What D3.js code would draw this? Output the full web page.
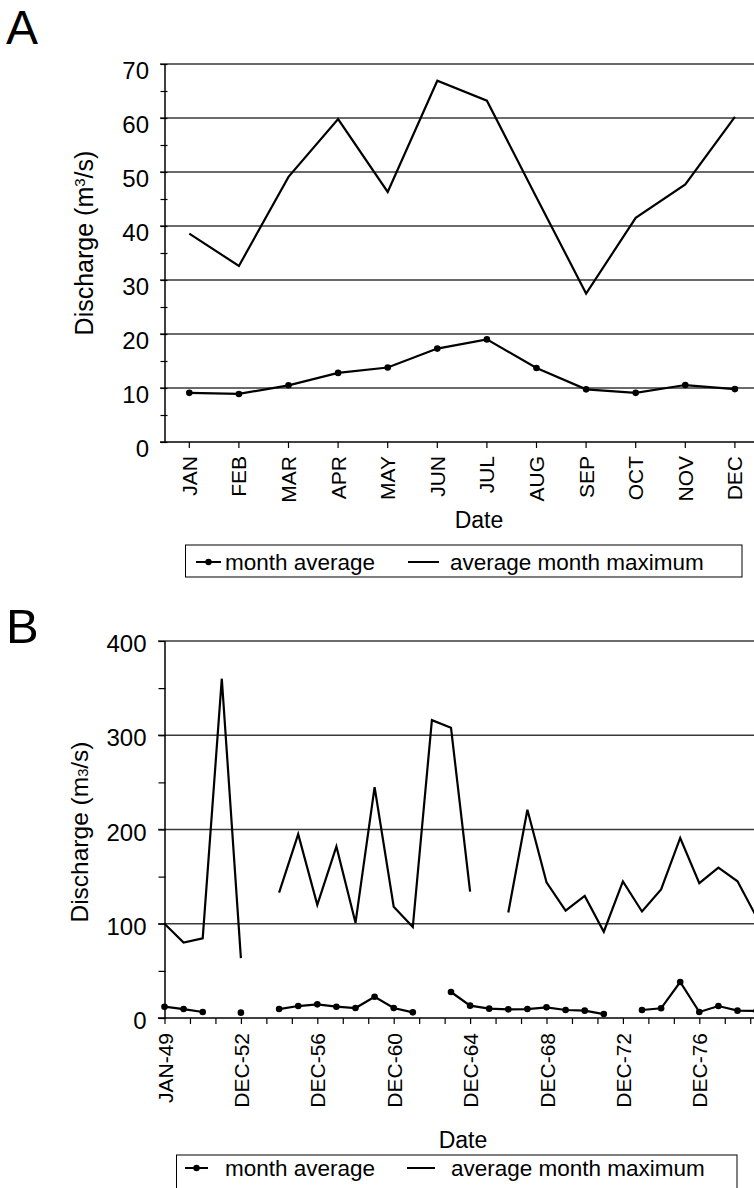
<!DOCTYPE html>
<html><head><meta charset="utf-8">
<script src="https://cdn.jsdelivr.net/npm/d3@7"></script>
<style>
body{margin:0;background:#fff}
svg{display:block}
text{font-family:"Liberation Sans",Arial,sans-serif;fill:#000}
</style>
</head><body>
<svg id="c" width="754" height="1188"></svg>
<script>
// ---------- Panel A data ----------
const monthsA = ["JAN","FEB","MAR","APR","MAY","JUN","JUL","AUG","SEP","OCT","NOV","DEC"];
const monthAverageA = [9.1, 8.9, 10.5, 12.8, 13.8, 17.3, 19.0, 13.7, 9.75, 9.1, 10.55, 9.8];
const monthMaxA = [38.6, 32.6, 49.1, 59.8, 46.3, 66.9, 63.2, 45.3, 27.5, 41.5, 47.7, 60.2];
const yTicksA = [0, 10, 20, 30, 40, 50, 60, 70];

// ---------- Panel B data (one value per period, null = missing) ----------
const monthAverageB = [12.0, 9.5, 6.4, null, 5.7, null, 9.5, 12.7, 14.5, 12.0, 10.6, 22.6, 10.6, 6.0, null, 27.6,
                       13.1, 9.9, 9.2, 9.5, 11.3, 8.5, 7.8, 4.2, null, 8.5, 10.3, 38.2, 6.4, 12.7, 7.8, 7.5];
const monthMaxB = [100, 80, 84.5, 360, 63.5, null, 133, 195, 120, 182, 101, 245, 118, 96.5, 316, 308,
                   134, null, 112, 221, 144, 114, 129.5, 91.5, 145, 113, 136.5, 191, 143, 159.5, 145, 107];
const xLabelsB = ["JAN-49","DEC-52","DEC-56","DEC-60","DEC-64","DEC-68","DEC-72","DEC-76"];
const yTicksB = [0, 100, 200, 300, 400];

const svg = d3.select("#c");
const W = 754;

// ================= PANEL A =================
const xA = d3.scaleBand().domain(monthsA).range([164.5, 759.7]);
const yA = d3.scaleLinear().domain([0, 70]).range([442, 64]);
const gA = svg.append("g");

gA.append("text").attr("x", 6).attr("y", 44).attr("font-size", 48).text("A");

// gridlines
gA.append("g").selectAll("line").data(yTicksA.filter(d => d > 0)).join("line")
  .attr("x1", 160).attr("x2", W).attr("y1", d => yA(d)).attr("y2", d => yA(d))
  .attr("stroke", "#3a3a3a").attr("stroke-width", 1.3);

// y axis
const yAxisA = d3.axisLeft(yA).tickValues(d3.range(0, 71, 5)).tickSize(4).tickSizeOuter(0)
  .tickFormat(d => d % 10 === 0 ? d : "");
gA.append("g").attr("transform", "translate(164.5,0)").call(yAxisA)
  .call(g => g.select(".domain").attr("stroke", "#000").attr("stroke-width", 1.5))
  .call(g => g.selectAll(".tick line").attr("x1", 3).attr("x2", -4).attr("stroke", "#000").attr("stroke-width", 1.2))
  .call(g => g.selectAll(".tick text").attr("x", -15.5).attr("y", 7).attr("font-size", 24)
      .attr("font-family", "Liberation Sans, Arial, sans-serif").attr("fill", "#000"));

// x axis
const xAxisA = d3.axisBottom(xA).tickSize(6).tickSizeOuter(0);
gA.append("g").attr("transform", "translate(0,442)").call(xAxisA)
  .call(g => g.select(".domain").remove())
  .call(g => g.selectAll(".tick line").attr("stroke", "#000").attr("stroke-width", 1.2))
  .call(g => g.selectAll(".tick text").attr("transform", "rotate(-90)").attr("text-anchor", "end")
      .attr("x", -14).attr("y", 0).attr("dy", "0.36em").attr("font-size", 21)
      .attr("font-family", "Liberation Sans, Arial, sans-serif").attr("fill", "#000"));
gA.append("line").attr("x1", 160).attr("x2", W).attr("y1", 442).attr("y2", 442)
  .attr("stroke", "#000").attr("stroke-width", 1.5);

// lines
const cx = d => xA(d) + xA.bandwidth() / 2;
const lineA = d3.line().x((d, i) => cx(monthsA[i])).y(d => yA(d));
gA.append("path").datum(monthMaxA).attr("d", lineA).attr("fill", "none")
  .attr("stroke", "#000").attr("stroke-width", 2.2).attr("stroke-linejoin", "miter");
gA.append("path").datum(monthAverageA).attr("d", lineA).attr("fill", "none")
  .attr("stroke", "#000").attr("stroke-width", 2.2);
gA.append("g").selectAll("circle").data(monthAverageA).join("circle")
  .attr("cx", (d, i) => cx(monthsA[i])).attr("cy", d => yA(d)).attr("r", 3.3).attr("fill", "#000");

// titles
gA.append("text").attr("transform", "translate(93,243) rotate(-90)").attr("text-anchor", "middle")
  .attr("font-size", 25)
  .call(t => { t.append("tspan").text("Discharge (m");
               t.append("tspan").attr("font-size", "0.6em").attr("baseline-shift", "super").text("3");
               t.append("tspan").text("/s)"); });
gA.append("text").attr("x", 479).attr("y", 528).attr("text-anchor", "middle").attr("font-size", 23).text("Date");

// legend
function legend(g, x0, x1, y0, y1, cy, markX, lineX, textX1, textX2, fs) {
  g.append("rect").attr("x", x0).attr("y", y0).attr("width", x1 - x0).attr("height", y1 - y0)
    .attr("fill", "none").attr("stroke", "#000").attr("stroke-width", 1);
  g.append("line").attr("x1", markX[0]).attr("x2", markX[1]).attr("y1", cy).attr("y2", cy)
    .attr("stroke", "#000").attr("stroke-width", 2);
  g.append("circle").attr("cx", (markX[0] + markX[1]) / 2).attr("cy", cy).attr("r", 3.2).attr("fill", "#000");
  g.append("line").attr("x1", lineX[0]).attr("x2", lineX[1]).attr("y1", cy).attr("y2", cy)
    .attr("stroke", "#000").attr("stroke-width", 2);
  g.append("text").attr("x", textX1).attr("y", cy).attr("dy", "0.36em").attr("font-size", fs).text("month average");
  g.append("text").attr("x", textX2).attr("y", cy).attr("dy", "0.36em").attr("font-size", fs).text("average month maximum");
}
legend(gA, 185.5, 742, 545, 577, 562, [196, 221], [408, 439], 225, 450, 22.5);

// ================= PANEL B =================
const nB = monthMaxB.length;
const xB = d3.scaleLinear().domain([0, nB - 1]).range([164.5, 164.5 + 19.1 * (nB - 1)]);
const yB = d3.scaleLinear().domain([0, 400]).range([1018, 641]);
const gB = svg.append("g");

gB.append("text").attr("x", 6).attr("y", 643).attr("font-size", 49).text("B");

gB.append("g").selectAll("line").data(yTicksB.filter(d => d > 0)).join("line")
  .attr("x1", 158).attr("x2", W).attr("y1", d => yB(d)).attr("y2", d => yB(d))
  .attr("stroke", "#3a3a3a").attr("stroke-width", 1.3);

const yAxisB = d3.axisLeft(yB).tickValues(d3.range(0, 401, 50)).tickSize(6).tickSizeOuter(0)
  .tickFormat(d => d % 100 === 0 ? d : "");
gB.append("g").attr("transform", "translate(164.5,0)").call(yAxisB)
  .call(g => g.select(".domain").attr("stroke", "#000").attr("stroke-width", 1.5))
  .call(g => g.selectAll(".tick line").attr("x1", 1).attr("x2", -6).attr("stroke", "#000").attr("stroke-width", 1.2))
  .call(g => g.selectAll(".tick text").attr("x", -18).attr("y", 3).attr("font-size", 24)
      .attr("font-family", "Liberation Sans, Arial, sans-serif").attr("fill", "#000"));

// x axis ticks (every 4/3 period) and labels (every 4 periods)
const xAxisB = d3.axisBottom(xB).tickValues(d3.range(0, nB, 4 / 3)).tickSize(6).tickSizeOuter(0).tickFormat("");
gB.append("g").attr("transform", "translate(0,1018)").call(xAxisB)
  .call(g => g.select(".domain").remove())
  .call(g => g.selectAll(".tick line").attr("stroke", "#000").attr("stroke-width", 1.2));
const xLabAxisB = d3.axisBottom(xB).tickValues(xLabelsB.map((d, i) => i * 4)).tickSize(0)
  .tickFormat((d, i) => xLabelsB[i]);
gB.append("g").attr("transform", "translate(0,1018)").call(xLabAxisB)
  .call(g => g.select(".domain").remove())
  .call(g => g.selectAll(".tick text").attr("transform", "rotate(-90)").attr("text-anchor", "end")
      .attr("x", -15).attr("y", 0).attr("dy", "0.36em").attr("font-size", 21)
      .attr("font-family", "Liberation Sans, Arial, sans-serif").attr("fill", "#000"));
gB.append("line").attr("x1", 158).attr("x2", W).attr("y1", 1018).attr("y2", 1018)
  .attr("stroke", "#000").attr("stroke-width", 1.5);

const lineB = d3.line().defined(d => d != null).x((d, i) => xB(i)).y(d => yB(d));
gB.append("path").datum(monthMaxB).attr("d", lineB).attr("fill", "none")
  .attr("stroke", "#000").attr("stroke-width", 2.2);
gB.append("path").datum(monthAverageB).attr("d", lineB).attr("fill", "none")
  .attr("stroke", "#000").attr("stroke-width", 2.2);
gB.append("g").selectAll("circle").data(monthAverageB.map((v, i) => ({v, i})).filter(d => d.v != null)).join("circle")
  .attr("cx", d => xB(d.i)).attr("cy", d => yB(d.v)).attr("r", 3.3).attr("fill", "#000");

gB.append("text").attr("transform", "translate(88,832) rotate(-90)").attr("text-anchor", "middle")
  .attr("font-size", 24.5)
  .call(t => { t.append("tspan").text("Discharge (m");
               t.append("tspan").attr("font-size", "0.6em").text("3");
               t.append("tspan").text("/s)"); });
gB.append("text").attr("x", 463).attr("y", 1148).attr("text-anchor", "middle").attr("font-size", 23).text("Date");

legend(gB, 176.5, 737, 1155, 1200, 1168, [185, 208], [407, 435], 225, 451, 22.5);
</script>
</body></html>
